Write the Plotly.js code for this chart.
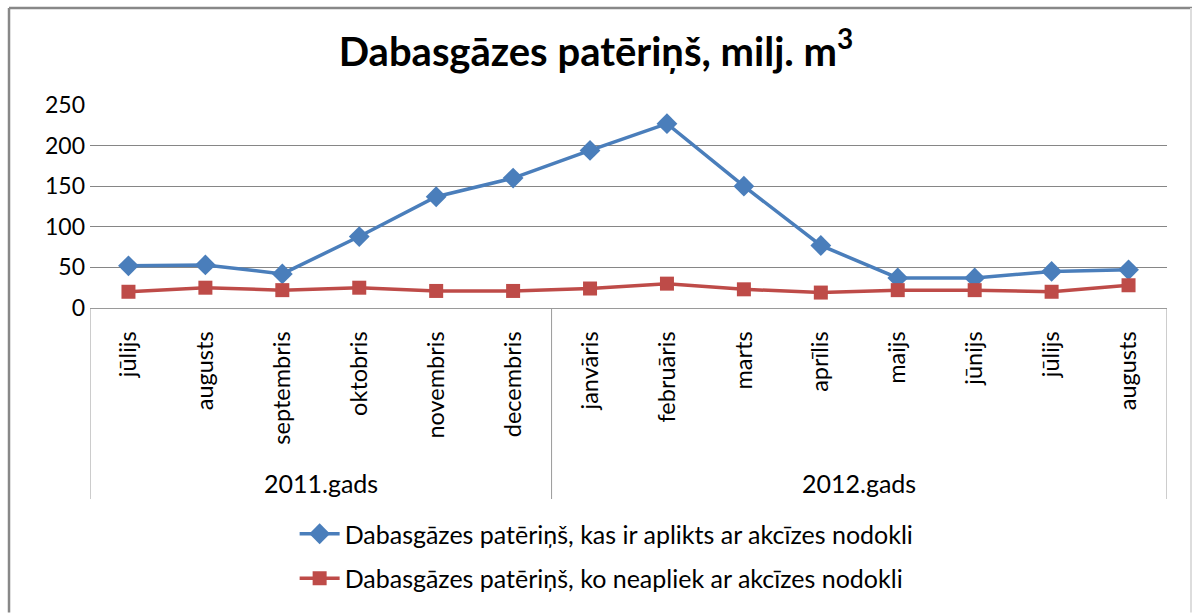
<!DOCTYPE html>
<html>
<head>
<meta charset="utf-8">
<script src="https://cdn.plot.ly/plotly-3.0.1.min.js"></script>
<style>html,body{margin:0;padding:0;background:#fff;} #chart{width:1192px;height:614px;}</style>
</head>
<body>
<div id="chart"></div>
<script>
const years = ['2011.gads','2011.gads','2011.gads','2011.gads','2011.gads','2011.gads',
  '2012.gads','2012.gads','2012.gads','2012.gads','2012.gads','2012.gads','2012.gads','2012.gads'];
const months = ['jūlijs','augusts','septembris','oktobris','novembris','decembris',
  'janvāris','februāris','marts','aprīlis','maijs','jūnijs','jūlijs','augusts'];
const taxed = [52, 53, 42, 88, 137, 160, 194, 227, 150, 77, 37, 37, 45, 47];
const untaxed = [20, 25, 22, 25, 21, 21, 24, 30, 23, 19, 22, 22, 20, 28];
const seriesNames = ['Dabasgāzes patēriņš, kas ir aplikts ar akcīzes nodokli',
  'Dabasgāzes patēriņš, ko neapliek ar akcīzes nodokli'];
const yTicks = [0, 50, 100, 150, 200, 250];

const FONT = 'Lato, "Open Sans", sans-serif';
const idx = months.map((m, i) => i);

// year groups -> label positions and divider positions
const groups = [];
years.forEach((y, i) => {
  if (!groups.length || groups[groups.length - 1].name !== y) groups.push({name: y, start: i, end: i});
  else groups[groups.length - 1].end = i;
});
const dividerX = [groups[0].start - 0.5].concat(groups.map(g => g.end + 0.5));

const data = [
  {x: idx, y: taxed, name: seriesNames[0], legendgroup: 'a', type: 'scatter', mode: 'lines+markers',
   line: {color: '#4A7EBB', width: 3.5}, marker: {symbol: 'diamond', size: 16, color: '#4A7EBB'}},
  {x: idx, y: untaxed, name: seriesNames[1], legendgroup: 'b', type: 'scatter', mode: 'lines+markers',
   line: {color: '#BE4B48', width: 3.5}, marker: {symbol: 'square', size: 14, color: '#BE4B48'}}
];

const shapes = [
  // chart outer frame
  {type: 'line', xref: 'paper', yref: 'paper', x0: -0.0752, x1: 1.03, y0: 1.478, y1: 1.478, line: {color: '#888', width: 2.5}},
  {type: 'line', xref: 'paper', yref: 'paper', x0: -0.0752, x1: -0.0752, y0: 1.478, y1: -1.5, line: {color: '#888', width: 2.5}},
  {type: 'line', xref: 'paper', yref: 'paper', x0: 1.0223, x1: 1.0223, y0: 1.478, y1: -1.5, line: {color: '#ddd', width: 2}}
].concat(dividerX.map(x => ({type: 'line', xref: 'x', yref: 'paper', x0: x, x1: x, y0: 0, y1: -0.941,
  line: {color: '#9a9a9a', width: 1}})));

const annotations = groups.map(g => ({
  x: (g.start + g.end) / 2, xref: 'x', y: -0.863, yref: 'paper', yanchor: 'middle',
  text: g.name, showarrow: false, font: {family: FONT, size: 25, color: '#000'}
}));

const layout = {
  width: 1192, height: 614,
  margin: {l: 90, r: 25, t: 105, b: 304},
  paper_bgcolor: '#fff', plot_bgcolor: '#fff',
  font: {family: FONT, color: '#000', size: 21},
  title: {text: 'Dabasgāzes patēriņš, milj. m<sup>3</sup>', x: 0.5, xref: 'container',
    y: 0.915, yref: 'container', yanchor: 'middle',
    font: {family: FONT, size: 40, color: '#000', weight: 'bold'}},
  xaxis: {range: [-0.5, months.length - 0.5], tickvals: idx, ticktext: months, tickangle: -90,
    showgrid: false, zeroline: false, showline: true, linecolor: '#9a9a9a', linewidth: 1,
    ticks: '', ticklabelstandoff: 13,
    tickfont: {family: FONT, size: 23.5, color: '#000'}},
  yaxis: {range: [0, 250], tickvals: yTicks, showgrid: true, gridcolor: '#868686', gridwidth: 1,
    zeroline: false, showline: false, ticks: '', ticklabelstandoff: 4,
    tickfont: {family: FONT, size: 23, color: '#000'}},
  showlegend: true,
  legend: {orientation: 'v', x: 0.19, xanchor: 'left', y: -1.0, yanchor: 'top',
    font: {family: FONT, size: 25, color: '#000'}, tracegroupgap: 9, itemwidth: 40},
  shapes: shapes,
  annotations: annotations
};
Plotly.newPlot('chart', data, layout, {displayModeBar: false, staticPlot: true});
</script>
</body>
</html>
